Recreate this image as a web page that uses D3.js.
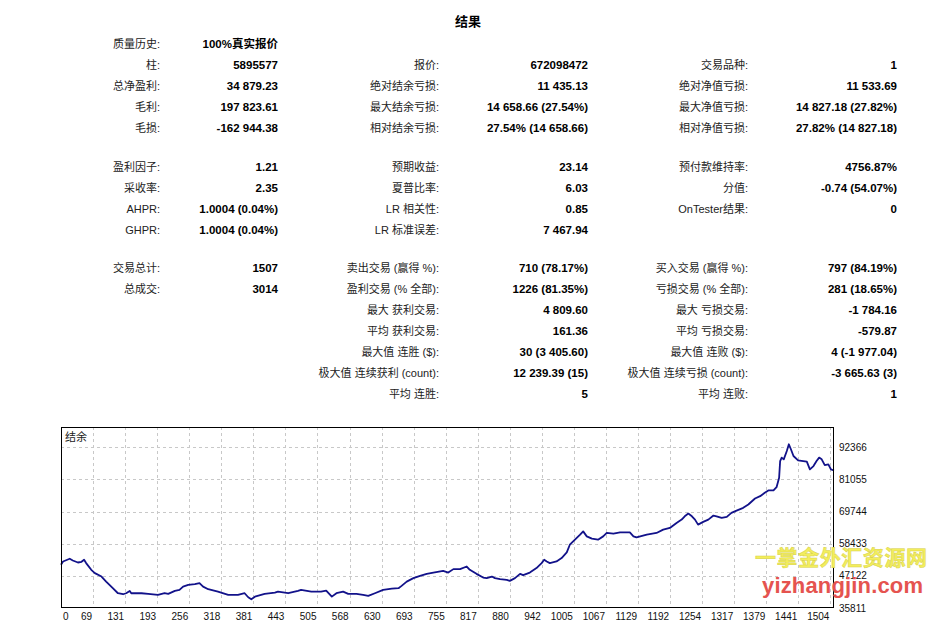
<!DOCTYPE html>
<html>
<head>
<meta charset="utf-8">
<script src="https://cdn.jsdelivr.net/npm/d3@7/dist/d3.min.js"></script>
<style>
  html, body { margin: 0; padding: 0; background: #fff; }
  svg { display: block; }
</style>
</head>
<body>
<svg id="chart" width="941" height="637"></svg>
<script>
// ---------------- DATA ----------------
const reportTitle = "结果";

// section 1
const s1Col1Labels = ["质量历史:", "柱:", "总净盈利:", "毛利:", "毛损:"];
const s1Col1Values = ["100%真实报价", "5895577", "34 879.23", "197 823.61", "-162 944.38"];
const s1Col2Labels = ["报价:", "绝对结余亏损:", "最大结余亏损:", "相对结余亏损:"];
const s1Col2Values = ["672098472", "11 435.13", "14 658.66 (27.54%)", "27.54% (14 658.66)"];
const s1Col3Labels = ["交易品种:", "绝对净值亏损:", "最大净值亏损:", "相对净值亏损:"];
const s1Col3Values = ["1", "11 533.69", "14 827.18 (27.82%)", "27.82% (14 827.18)"];

// section 2
const s2Col1Labels = ["盈利因子:", "采收率:", "AHPR:", "GHPR:"];
const s2Col1Values = ["1.21", "2.35", "1.0004 (0.04%)", "1.0004 (0.04%)"];
const s2Col2Labels = ["预期收益:", "夏普比率:", "LR 相关性:", "LR 标准误差:"];
const s2Col2Values = ["23.14", "6.03", "0.85", "7 467.94"];
const s2Col3Labels = ["预付款维持率:", "分值:", "OnTester结果:"];
const s2Col3Values = ["4756.87%", "-0.74 (54.07%)", "0"];

// section 3
const s3Col1Labels = ["交易总计:", "总成交:"];
const s3Col1Values = ["1507", "3014"];
const s3Col2Labels = ["卖出交易 (赢得 %):", "盈利交易 (% 全部):", "最大 获利交易:", "平均 获利交易:", "最大值 连胜 ($):", "极大值 连续获利 (count):", "平均 连胜:"];
const s3Col2Values = ["710 (78.17%)", "1226 (81.35%)", "4 809.60", "161.36", "30 (3 405.60)", "12 239.39 (15)", "5"];
const s3Col3Labels = ["买入交易 (赢得 %):", "亏损交易 (% 全部):", "最大 亏损交易:", "平均 亏损交易:", "最大值 连败 ($):", "极大值 连续亏损 (count):", "平均 连败:"];
const s3Col3Values = ["797 (84.19%)", "281 (18.65%)", "-1 784.16", "-579.87", "4 (-1 977.04)", "-3 665.63 (3)", "1"];

// balance curve (trade number, balance)
const tradeNo = [0,4,17,23,33,40,45,49,59,66,79,88,101,111,121,127,134,137,157,170,189,202,209,222,231,238,248,261,270,277,287,306,326,345,358,365,371,378,397,417,423,443,462,468,488,507,517,
  528,537,550,560,576,589,599,612,628,645,658,664,674,687,700,713,726,745,755,765,778,791,797,810,823,830,840,846,856,869,875,885,895,901,914,927,937,942,947,953,966,976,986,992,1002,1012,1018,
  1025,1035,1047,1057,1064,1077,1090,1109,1116,1122,1142,1161,1174,1187,1200,1210,1216,1223,1230,1236,1242,1252,1262,1272,1278,1288,1298,1307,1317,1330,1340,1347,1353,1363,1372,1379,1389,1395,
  1400,1402,1405,1409,1415,1419,1423,1428,1437,1447,1454,1460,1467,1473,1478,1483,1489,1496,1501,1507];
const balance = [51010,52177,53131,52530,51823,52071,52778,51611,49243,48076,46875,45107,42774,41007,40654,41007,41820,41007,41007,40760,40406,41007,40760,41820,42173,43340,43941,44188,44542,43340,42421,41573,40406,40406,41007,39593,38886,39805,40760,41219,41573,41007,41820,42173,41573,41573,41926,
  39805,41007,41573,40760,40760,40406,40053,41007,42173,42633,42774,43587,45107,46309,47122,47829,48289,48889,48289,49490,49490,50409,49243,47829,46521,46309,46875,46309,45956,45708,45355,46309,47829,47369,48289,49844,51611,52778,52177,51611,52177,53378,55358,58080,59847,61614,62781,
  61013,60200,59847,61013,62215,61968,62427,62427,61013,60660,61614,62215,63382,63983,65750,66916,68083,69037,68083,66916,65149,66103,66916,68330,68083,67517,67871,69285,70098,71052,72218,73385,74339,75152,76354,77167,77167,78333,
  81656,87524,88725,88125,91058,93427,91659,89291,87771,87524,87312,84590,85756,87524,88725,88125,86110,86357,84590,84200];

const yTickValues = [35811, 47122, 58433, 69744, 81055, 92366];
const xTickLabels = ["0","69","131","193","256","318","381","443","505","568","630","693","755","817","880","942","1005","1067","1129","1192","1254","1317","1379","1441","1504"];
const xTickStep = 62.5;       // trades between vertical grid lines
const xMax = 1507;
const yMin = 35811, yMax = 99500;
const chartLabel = "结余";

// ---------------- DRAW ----------------
const svg = d3.select("#chart");
const LAT = "'Liberation Sans', 'Noto Sans CJK SC', sans-serif";
const CJK = "'Noto Sans CJK SC', 'Liberation Sans', sans-serif";

// title
svg.append("text").attr("x", 468).attr("y", 26).attr("text-anchor", "middle")
  .attr("font-family", CJK).attr("font-weight", "bold").attr("font-size", 13).attr("fill", "#000")
  .text(reportTitle);

const colLabelX = [160, 439, 748];
const colValueX = [278, 588, 897];

function drawCol(labels, values, col, startY, rowOffset) {
  const g = svg.append("g");
  labels.forEach((lab, i) => {
    const y = startY + (i + rowOffset) * 20.95;
    g.append("text").attr("x", colLabelX[col]).attr("y", y + 4).attr("text-anchor", "end")
      .attr("font-family", LAT).attr("font-size", 11).attr("fill", "#222").text(lab);
    g.append("text").attr("x", colValueX[col]).attr("y", y + 4).attr("text-anchor", "end")
      .attr("font-family", LAT).attr("font-weight", "bold").attr("font-size", 11.5).attr("fill", "#000").text(values[i]);
  });
}
drawCol(s1Col1Labels, s1Col1Values, 0, 44, 0);
drawCol(s1Col2Labels, s1Col2Values, 1, 44, 1);
drawCol(s1Col3Labels, s1Col3Values, 2, 44, 1);
drawCol(s2Col1Labels, s2Col1Values, 0, 166.8, 0);
drawCol(s2Col2Labels, s2Col2Values, 1, 166.8, 0);
drawCol(s2Col3Labels, s2Col3Values, 2, 166.8, 0);
drawCol(s3Col1Labels, s3Col1Values, 0, 268, 0);
drawCol(s3Col2Labels, s3Col2Values, 1, 268, 0);
drawCol(s3Col3Labels, s3Col3Values, 2, 268, 0);

// chart
const L = 61, T = 427, R = 834, B = 608;
const x = d3.scaleLinear().domain([0, xMax]).range([L, R]);
const y = d3.scaleLinear().domain([yMin, yMax]).range([B, T]);

svg.append("rect").attr("x", L).attr("y", T).attr("width", R - L).attr("height", B - T).attr("fill", "#fff");

const grid = svg.append("g").attr("stroke", "#c8c8c8").attr("stroke-width", 1).attr("stroke-dasharray", "3,3");
xTickLabels.forEach((lab, i) => {
  if (i === 0) return;
  const gx = Math.round(x(i * xTickStep)) + 0.5;
  grid.append("line").attr("x1", gx).attr("x2", gx).attr("y1", T).attr("y2", B);
});
yTickValues.forEach(v => {
  if (v === yMin) return;
  const gy = Math.round(y(v)) + 0.5;
  grid.append("line").attr("x1", L).attr("x2", R).attr("y1", gy).attr("y2", gy);
});

const line = d3.line().x((d, i) => x(tradeNo[i])).y(d => y(d));
svg.append("path").datum(balance).attr("d", line).attr("fill", "none")
  .attr("stroke", "#12128a").attr("stroke-width", 1.8).attr("stroke-linejoin", "round");

svg.append("rect").attr("x", L + 0.5).attr("y", T + 0.5).attr("width", R - L - 1).attr("height", B - T - 1)
  .attr("fill", "none").attr("stroke", "#000").attr("stroke-width", 1);

svg.append("text").attr("x", 65).attr("y", 441).attr("font-family", CJK).attr("font-size", 11).attr("fill", "#222").text(chartLabel);

// axis labels
const xa = svg.append("g").attr("font-family", LAT).attr("font-size", 10).attr("fill", "#111");
xTickLabels.forEach((lab, i) => {
  const gx = x(i * xTickStep);
  xa.append("text").attr("x", i === 0 ? gx + 2 : gx - 1).attr("y", 620)
    .attr("text-anchor", i === 0 ? "start" : "end").text(lab);
});
const ya = svg.append("g").attr("font-family", LAT).attr("font-size", 10).attr("fill", "#111");
yTickValues.forEach(v => {
  ya.append("text").attr("x", 839).attr("y", y(v) + 3.5).attr("text-anchor", "start").text(v);
});

// watermark
svg.append("text").attr("x", 755).attr("y", 565).attr("font-family", CJK).attr("font-weight", "bold")
  .attr("font-size", 21).attr("fill", "#f3ee5c").attr("stroke", "#d9d24a").attr("stroke-width", 0.5)
  .attr("textLength", 172).text("一掌金外汇资源网");
svg.append("text").attr("x", 762).attr("y", 593).attr("font-family", LAT).attr("font-weight", "bold")
  .attr("font-size", 22).attr("fill", "#e5534f").attr("textLength", 161).text("yizhangjin.com");
</script>
</body>
</html>
